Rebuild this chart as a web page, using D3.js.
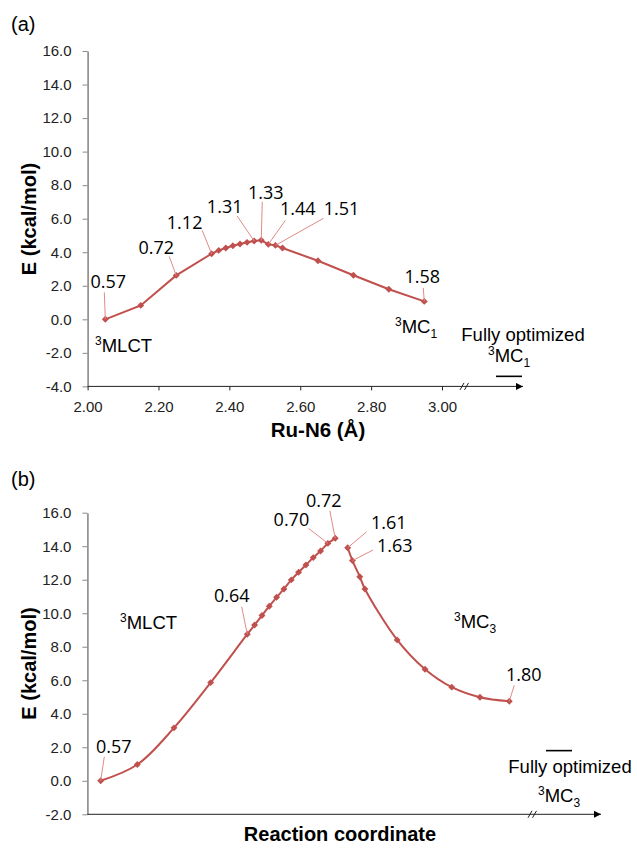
<!DOCTYPE html>
<html><head><meta charset="utf-8">
<script src="https://cdn.jsdelivr.net/npm/d3@7"></script>
<style>body{margin:0;background:#fff} svg{display:block}</style>
</head><body>
<svg id="c" width="637" height="848"></svg>
<script>
// ---------- Panel (a) data ----------
const aRuN6   = [2.05, 2.15, 2.25, 2.35, 2.37, 2.39, 2.41, 2.43, 2.45, 2.47, 2.49, 2.51, 2.53, 2.55, 2.65, 2.75, 2.85, 2.95];
const aEnergy = [0.00, 0.83, 2.62, 3.91, 4.11, 4.25, 4.39, 4.49, 4.59, 4.67, 4.71, 4.47, 4.41, 4.25, 3.49, 2.63, 1.79, 1.07];
const aXTicks = [2.0, 2.2, 2.4, 2.6, 2.8, 3.0];
const aYTicks = [-4, -2, 0, 2, 4, 6, 8, 10, 12, 14, 16];
const aLabelIdx  = [0, 2, 3, 9, 10, 11, 12, 17];
const aLabelText = ["0.57", "0.72", "1.12", "1.31", "1.33", "1.44", "1.51", "1.58"];
const aOptEnergy = -3.4;

// ---------- Panel (b) data ----------
const bCoord1  = [0, 1, 2, 3, 4, 4.2, 4.4, 4.6, 4.8, 5.0, 5.2, 5.4, 5.6, 5.8, 6.0, 6.2, 6.4];
const bEnergy1 = [0.00, 0.97, 3.16, 5.86, 8.75, 9.30, 9.86, 10.42, 10.95, 11.45, 11.99, 12.45, 12.88, 13.32, 13.71, 14.17, 14.47];
const bCoord2  = [6.74, 6.87, 7.07, 7.21, 8.09, 8.85, 9.58, 10.35, 11.15];
const bEnergy2 = [13.91, 13.14, 12.18, 11.45, 8.41, 6.66, 5.59, 4.99, 4.75];
const bYTicks  = [-2, 0, 2, 4, 6, 8, 10, 12, 14, 16];
const bLabelBranch = [1, 1, 1, 1, 2, 2, 2];
const bLabelIdx    = [0, 4, 15, 16, 0, 1, 8];
const bLabelText   = ["0.57", "0.64", "0.70", "0.72", "1.61", "1.63", "1.80"];
const bOptEnergy = 1.8;

// ---------- layout (label offsets: text dx,dy ; leader start dx,dy) ----------
const aLabelLayout = [[3,-31,-1,-27],[-20,-21,-7,-19],[-27,-25,-9.5,-23.5],[-29.5,-28,-17,-25],
                      [4.5,-41,1,-38.5],[29.5,-29,17,-24],[66,-30,48,-27],[-2,-18,-1,-13.5]];
const bLabelLayout = [[13,-28,3.6,-24],[-15.6,-32,-5.6,-27.4],[-36.5,-17.5,-19.4,-15],[-11.4,-31,-5.4,-27.6],
                      [41,-18.3,19,-16],[42.3,-9,20.6,-10.6],[14.4,-20,5,-16]];

const RED = "#c0504d", LEAD = "#e08a87";
const SANS = "'Liberation Sans', Arial, sans-serif";
const LBL = "'Open Sans', 'Noto Sans', sans-serif";

const svg = d3.select("#c");
const defs = svg.append("defs");
defs.append("marker").attr("id","arr").attr("viewBox","0 0 10 10").attr("refX",10).attr("refY",5)
  .attr("markerWidth",10).attr("markerHeight",7).attr("markerUnits","userSpaceOnUse").attr("orient","auto")
  .append("path").attr("d","M0,0L10,5L0,10z").attr("fill","#000");

function yAxis(y, x0, ticks) {
  const g = svg.append("g").attr("transform", `translate(${x0},0)`)
    .call(d3.axisLeft(y).tickValues(ticks).tickFormat(d => d.toFixed(1)).tickSize(5).tickPadding(11).tickSizeOuter(0));
  g.select(".domain").attr("stroke", "#8a8a8a").attr("stroke-width", 1.6);
  g.selectAll(".tick line").attr("stroke", "#8a8a8a");
  g.selectAll("text").attr("font-family", SANS).attr("font-size", 15).attr("fill", "#222");
}
function xLine(x0, x1, y0, xBreak) {
  svg.append("line").attr("x1", x0).attr("x2", x1).attr("y1", y0).attr("y2", y0)
    .attr("stroke", "#222").attr("stroke-width", 1).attr("marker-end", "url(#arr)");
  [0, 4.5].forEach(o => svg.append("line")
    .attr("x1", xBreak + o - 2).attr("y1", y0 + 3.5).attr("x2", xBreak + o + 2).attr("y2", y0 - 3.5)
    .attr("stroke", "#222").attr("stroke-width", 1));
}
function markers(pts, x, y) {
  svg.append("g").selectAll("path").data(pts).join("path")
    .attr("d", d3.symbol(d3.symbolSquare, 24)())
    .attr("transform", d => `translate(${x(d[0])},${y(d[1])}) rotate(45)`)
    .attr("fill", RED);
}
function labels(list, x, y) {
  const g = svg.append("g");
  list.forEach(({p, text, lay}) => {
    const px = x(p[0]), py = y(p[1]);
    g.append("line").attr("x1", px + lay[2]).attr("y1", py + lay[3]).attr("x2", px).attr("y2", py)
      .attr("stroke", LEAD).attr("stroke-width", 1);
    g.append("text").attr("x", px + lay[0]).attr("y", py + lay[1]).attr("text-anchor", "middle")
      .attr("font-family", LBL).attr("font-size", 18).attr("fill", "#000").text(text);
  });
}
function supText(x0, y0, sup, main, sub, anchor) {
  const t = svg.append("text").attr("x", x0).attr("y", y0).attr("font-family", SANS).attr("font-size", 18.5)
    .attr("fill", "#000").attr("text-anchor", anchor || "start");
  t.append("tspan").attr("font-size", 12).attr("dy", -7).text(sup);
  t.append("tspan").attr("dy", 7).text(main);
  if (sub) t.append("tspan").attr("font-size", 12).attr("dy", 5).text(sub);
}
function plainText(x0, y0, s, size, weight, anchor) {
  return svg.append("text").attr("x", x0).attr("y", y0).attr("font-family", SANS).attr("font-size", size)
    .attr("font-weight", weight || "normal").attr("text-anchor", anchor || "start").attr("fill", "#000").text(s);
}

// ================= Panel (a) =================
const xA = d3.scaleLinear().domain([2.0, 3.0]).range([87.6, 442]);
const yA = d3.scaleLinear().domain([-4, 16]).range([386.4, 51]);
yAxis(yA, 87.6, aYTicks);
xLine(87.6, 523, yA(-4), 462);
const gxa = svg.append("g").attr("transform", `translate(0,${yA(-4)})`)
  .call(d3.axisBottom(xA).tickValues(aXTicks).tickFormat(d => d.toFixed(2)).tickSize(4).tickPadding(11).tickSizeOuter(0));
gxa.select(".domain").remove();
gxa.selectAll(".tick line").attr("stroke", "#222");
gxa.selectAll("text").attr("font-family", SANS).attr("font-size", 15).attr("fill", "#222");

const ptsA = aRuN6.map((v, i) => [v, aEnergy[i]]);
svg.append("path").datum(ptsA).attr("fill", "none").attr("stroke", RED).attr("stroke-width", 2)
  .attr("d", d3.line().x(d => xA(d[0])).y(d => yA(d[1])));
markers(ptsA, xA, yA);
labels(aLabelIdx.map((k, j) => ({p: ptsA[k], text: aLabelText[j], lay: aLabelLayout[j]})), xA, yA);

svg.append("line").attr("x1", 496).attr("x2", 522).attr("y1", yA(aOptEnergy)).attr("y2", yA(aOptEnergy))
  .attr("stroke", "#000").attr("stroke-width", 1.6);

plainText(11, 31, "(a)", 20);
plainText(0, 0, "E (kcal/mol)", 20, "bold", "middle").attr("transform", "translate(36,219) rotate(-90)");
plainText(318, 437, "Ru-N6 (Å)", 20.5, "bold", "middle");
supText(95, 351.7, "3", "MLCT");
supText(395, 333.3, "3", "MC", "1");
plainText(523, 341, "Fully optimized", 18.5, "normal", "middle");
supText(488, 361.7, "3", "MC", "1");

// ================= Panel (b) =================
const xB = d3.scaleLinear().domain([0, 11.15]).range([100.7, 509.3]);
const yB = d3.scaleLinear().domain([-2, 16]).range([814.3, 512.7]);
yAxis(yB, 87.4, bYTicks);
xLine(87.4, 601, yB(-2), 530);

const ptsB1 = bCoord1.map((v, i) => [v, bEnergy1[i]]);
const ptsB2 = bCoord2.map((v, i) => [v, bEnergy2[i]]);
const smooth = d3.line().x(d => xB(d[0])).y(d => yB(d[1])).curve(d3.curveCatmullRom.alpha(0.5));
[ptsB1, ptsB2].forEach(p => svg.append("path").datum(p).attr("fill", "none").attr("stroke", RED)
  .attr("stroke-width", 2).attr("d", smooth));
markers(ptsB1, xB, yB);
markers(ptsB2, xB, yB);
labels(bLabelIdx.map((k, j) => ({p: (bLabelBranch[j] === 1 ? ptsB1 : ptsB2)[k], text: bLabelText[j], lay: bLabelLayout[j]})), xB, yB);

svg.append("line").attr("x1", 546).attr("x2", 572).attr("y1", yB(bOptEnergy)).attr("y2", yB(bOptEnergy))
  .attr("stroke", "#000").attr("stroke-width", 1.6);

plainText(11, 486, "(b)", 20);
plainText(0, 0, "E (kcal/mol)", 20, "bold", "middle").attr("transform", "translate(36,663.5) rotate(-90)");
plainText(340, 841, "Reaction coordinate", 20, "bold", "middle");
supText(120, 629.3, "3", "MLCT");
supText(454, 628.3, "3", "MC", "3");
plainText(570, 773, "Fully optimized", 18.5, "normal", "middle");
supText(538, 802, "3", "MC", "3");
</script></body></html>
